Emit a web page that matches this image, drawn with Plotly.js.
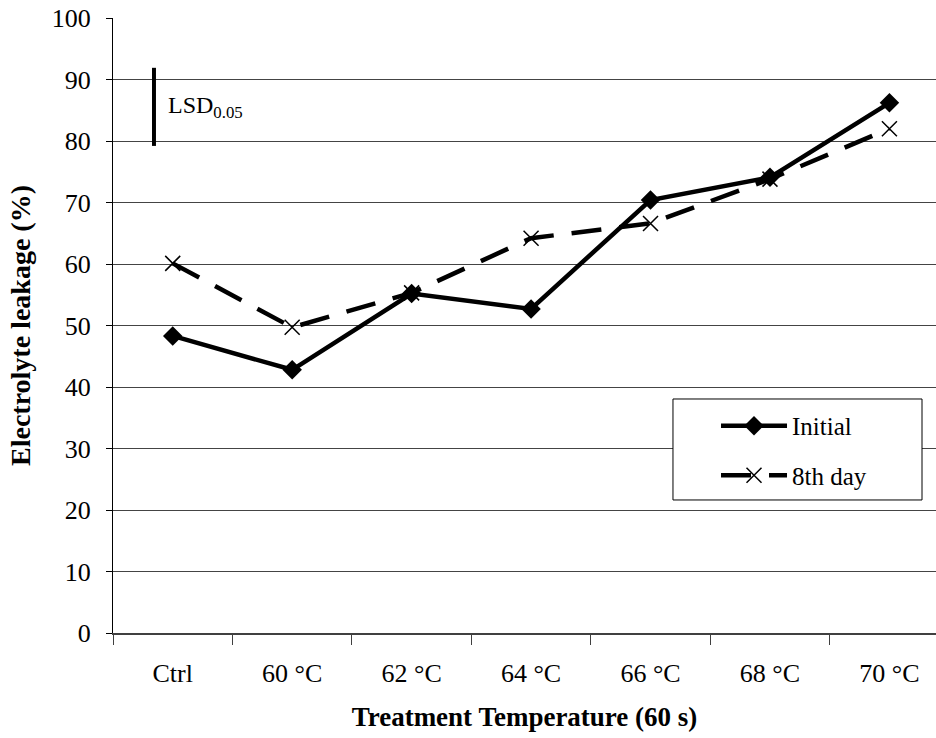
<!DOCTYPE html>
<html>
<head>
<meta charset="utf-8">
<script src="https://cdn.plot.ly/plotly-3.0.1.min.js"></script>
<style>html,body{margin:0;padding:0;background:#fff;}#chart{width:936px;height:738px;}</style>
</head>
<body>
<div id="chart"></div>
<script>
// Treatment temperatures (60 s heat treatment)
const categories = ['Ctrl', '60 °C', '62 °C', '64 °C', '66 °C', '68 °C', '70 °C'];
// Electrolyte leakage (%)
const initialValues = [48.3, 42.8, 55.2, 52.7, 70.4, 74.1, 86.2];
const day8Values = [60.1, 49.7, 55.3, 64.2, 66.6, 73.8, 82.0];
// Least significant difference at p = 0.05
const lsdLow = 79.2;
const lsdHigh = 91.9;
const yTicks = [0, 10, 20, 30, 40, 50, 60, 70, 80, 90, 100];

const serif = 'Liberation Serif, Times New Roman, serif';

const traces = [
  {
    x: categories, y: initialValues, name: 'Initial', legendgroup: 'initial',
    type: 'scatter', mode: 'lines+markers',
    line: {color: '#000', width: 4.5},
    marker: {symbol: 'diamond', size: 15, color: '#000'}
  },
  {
    x: categories, y: day8Values, name: '8th day', legendgroup: 'day8',
    type: 'scatter', mode: 'lines+markers',
    line: {color: '#000', width: 4.5, dash: '30px,18px'},
    marker: {symbol: 'x-thin-open', size: 15, color: '#000', line: {color: '#000', width: 1.5}}
  }
];

const layout = {
  width: 936, height: 738,
  margin: {l: 113, r: 0, t: 18, b: 105},
  paper_bgcolor: '#fff', plot_bgcolor: '#fff',
  font: {family: serif, size: 26, color: '#000'},
  showlegend: true,
  legend: {
    x: 0.7327, y: 0.374, xanchor: 'left', yanchor: 'top',
    bgcolor: 'rgba(0,0,0,0)', borderwidth: 0,
    font: {family: serif, size: 25, color: '#000'},
    itemwidth: 66, tracegroupgap: 14
  },
  xaxis: {
    type: 'category', range: [-0.5, 6.39],
    showline: true, linecolor: '#404040', linewidth: 1.5,
    ticks: 'outside', tickson: 'boundaries', ticklen: 10, tickcolor: '#404040',
    ticklabelstandoff: 16,
    showgrid: false, zeroline: false,
    tickfont: {family: serif, size: 26},
    title: {text: '<b>Treatment Temperature (60 s)</b>', font: {family: serif, size: 27}, standoff: 20}
  },
  yaxis: {
    range: [0, 100], tickvals: yTicks,
    showline: true, linecolor: '#000', linewidth: 1,
    ticks: 'outside', ticklen: 6, tickcolor: '#000',
    ticklabelstandoff: 10,
    showgrid: true, gridcolor: '#444', gridwidth: 1,
    zeroline: false,
    tickfont: {family: serif, size: 26},
    title: {text: '<b>Electrolyte leakage (%)</b>', font: {family: serif, size: 28}, standoff: 12}
  },
  shapes: [
    // LSD bar
    {type: 'line', xref: 'x', yref: 'y', x0: -0.157, x1: -0.157, y0: lsdLow, y1: lsdHigh,
     line: {color: '#000', width: 4}},
    // legend frame
    {type: 'rect', xref: 'paper', yref: 'paper', x0: 0.6804, x1: 0.983, y0: 0.2163, y1: 0.3805,
     layer: 'above', fillcolor: '#fff', line: {color: '#000', width: 1}}
  ],
  annotations: [
    {xref: 'x', yref: 'y', x: -0.06, y: 85.6, xanchor: 'left', yanchor: 'middle',
     text: 'LSD<sub>0.05</sub>', showarrow: false, font: {family: serif, size: 24, color: '#000'}}
  ]
};

Plotly.newPlot('chart', traces, layout, {displayModeBar: false, staticPlot: true});
</script>
</body>
</html>
